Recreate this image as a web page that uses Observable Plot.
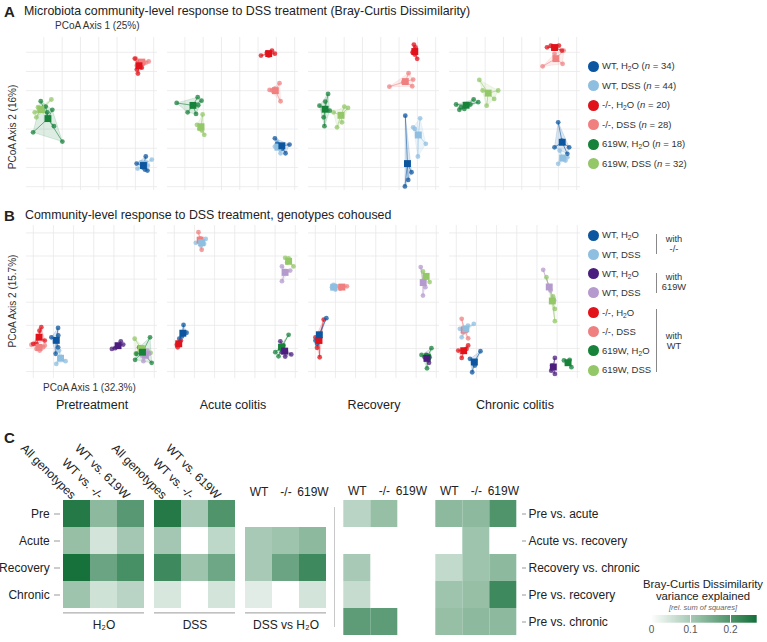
<!DOCTYPE html>
<html><head><meta charset="utf-8">
<script src="https://cdn.jsdelivr.net/npm/d3@7"></script>
<script src="https://cdn.jsdelivr.net/npm/@observablehq/plot@0.6"></script>
<style>
body{margin:0;background:#fff;}
#root{position:relative;width:767px;height:642px;overflow:hidden;font-family:"Liberation Sans",Arial,Helvetica,sans-serif;color:#222;background:#fff;}
.t{position:absolute;white-space:nowrap;line-height:1;}
.t sub{font-size:0.7em;vertical-align:-0.25em;line-height:0;}
</style></head><body><div id="root"></div>
<script>
const FONT = '"Liberation Sans", Arial, Helvetica, sans-serif';
const timepoints = ["Pretreatment","Acute colitis","Recovery","Chronic colitis"];

// ---------- Panel A: PCoA scores per group, one list per time point ----------
const A_WT_H2O = [
 [[0.257,-0.243],[0.207,-0.280],[0.252,-0.311],[0.266,-0.316],[0.239,-0.299]],
 [[0.192,-0.148],[0.272,-0.181],[0.250,-0.226],[0.204,-0.177],[0.232,-0.203]],
 [[0.134,-0.030],[0.168,-0.325],[0.150,-0.365],[0.132,-0.399]],
 [[0.199,-0.065],[0.259,-0.195],[0.179,-0.195],[0.219,-0.160],[0.249,-0.229]]];
const A_WT_DSS = [
 [[0.290,-0.259],[0.212,-0.306],[0.230,-0.274],[0.268,-0.290]],
 [[0.223,-0.226],[0.204,-0.165],[0.214,-0.195],[0.192,-0.191]],
 [[0.215,-0.044],[0.246,-0.177],[0.203,-0.243],[0.177,-0.091],[0.186,-0.099]],
 [[0.199,-0.281],[0.249,-0.247],[0.207,-0.212],[0.239,-0.264]]];
const A_KO_H2O = [
 [[0.197,0.267],[0.224,0.252],[0.241,0.241],[0.208,0.210],[0.214,0.189],[0.235,0.220]],
 [[0.116,0.283],[0.148,0.298],[0.176,0.309],[0.192,0.293],[0.159,0.283]],
 [[0.181,0.340],[0.190,0.326],[0.186,0.288],[0.199,0.266],[0.174,0.300]],
 [[0.159,0.335],[0.203,0.335],[0.219,0.309],[0.138,0.326],[0.176,0.319]]];
const A_KO_DSS = [
 [[0.203,0.267],[0.273,0.252],[0.257,0.246],[0.208,0.231]],
 [[0.217,0.139],[0.223,0.045],[0.163,0.104],[0.177,0.101],[0.192,0.111]],
 [[0.152,0.191],[0.177,0.158],[0.047,0.121],[0.172,0.123],[0.123,0.144]],
 [[0.114,0.227],[0.223,0.240],[0.229,0.309],[0.179,0.292]]];
const A_619_H2O = [
 [[-0.317,0.045],[-0.359,-0.117],[-0.199,-0.165],[-0.245,-0.085],[-0.254,0.000],[-0.281,-0.013],[-0.290,0.017]],
 [[-0.345,0.036],[-0.230,0.066],[-0.209,0.048],[-0.227,0.024],[-0.285,-0.013],[-0.239,-0.021]],
 [[-0.288,0.083],[-0.335,0.022],[-0.303,0.043],[-0.312,-0.039],[-0.308,-0.085],[-0.279,-0.004]],
 [[-0.359,0.028],[-0.341,0.000],[-0.314,0.005],[-0.281,0.028],[-0.263,0.054],[-0.238,0.040],[-0.332,0.014]]];
const A_619_DSS = [
 [[-0.259,0.054],[-0.350,-0.013],[-0.332,0.014],[-0.304,-0.007],[-0.341,-0.039]],
 [[-0.203,-0.024],[-0.234,-0.078],[-0.194,-0.130],[-0.221,-0.099],[-0.207,-0.108]],
 [[-0.199,0.017],[-0.179,0.010],[-0.212,-0.065],[-0.239,-0.091],[-0.258,-0.013]],
 [[-0.232,0.156],[-0.129,0.101],[-0.151,0.057],[-0.192,0.022],[-0.214,0.101]]];

// ---------- Panel B: cohoused genotypes ----------
const B_WT_H2O_KO = [
 [[-0.177,-0.111],[-0.210,-0.152],[-0.177,-0.195],[-0.189,-0.223],[-0.176,-0.144]],
 [[-0.254,-0.098],[-0.239,-0.132],[-0.275,-0.158],[-0.262,-0.148]],
 [[-0.245,-0.069],[-0.299,-0.166],[-0.291,-0.180],[-0.284,-0.148]],
 [[-0.180,-0.212],[-0.221,-0.303],[-0.232,-0.245],[-0.208,-0.274]]];
const B_WT_DSS_KO = [
 [[-0.140,-0.255],[-0.186,-0.267],[-0.172,-0.209],[-0.161,-0.238]],
 [[-0.193,0.257],[-0.144,0.274],[-0.152,0.253],[-0.168,0.245]],
 [[-0.217,0.065],[-0.200,0.055],[-0.209,0.075]],
 [[-0.213,-0.094],[-0.282,-0.115],[-0.273,-0.152],[-0.242,-0.101]]];
const B_WT_H2O_619 = [
 [[0.134,-0.169],[0.146,-0.183],[0.090,-0.202],[0.106,-0.199],[0.126,-0.187]],
 [[0.226,-0.169],[0.280,-0.226],[0.250,-0.235],[0.234,-0.216]],
 [[0.264,-0.262],[0.243,-0.238],[0.251,-0.228],[0.258,-0.244]],
 [[0.189,-0.241],[0.171,-0.296],[0.189,-0.310],[0.176,-0.274]]];
const B_WT_DSS_619 = [
 [[0.246,-0.255],[0.274,-0.223],[0.266,-0.209],[0.238,-0.231]],
 [[0.234,0.155],[0.234,0.091],[0.275,0.137],[0.255,0.133]],
 [[0.223,0.152],[0.246,0.065],[0.234,0.029],[0.238,0.094]],
 [[0.131,0.140],[0.185,0.007],[0.167,0.051]]];
const B_KO_H2O = [
 [[-0.260,-0.108],[-0.284,-0.180],[-0.300,-0.180],[-0.243,-0.166],[-0.269,-0.123]],
 [[-0.283,-0.195],[-0.267,-0.166],[-0.287,-0.184],[-0.274,-0.174]],
 [[-0.258,-0.075],[-0.291,-0.197],[-0.278,-0.238],[-0.299,-0.152]],
 [[-0.241,-0.187],[-0.290,-0.209],[-0.273,-0.241],[-0.249,-0.202]]];
const B_KO_DSS = [
 [[-0.309,-0.184],[-0.284,-0.202],[-0.251,-0.195],[-0.268,-0.209],[-0.243,-0.187]],
 [[-0.180,0.303],[-0.164,0.227],[-0.171,0.276]],
 [[-0.143,0.069],[-0.184,0.069],[-0.176,0.059]],
 [[-0.273,-0.072],[-0.241,-0.156],[-0.266,-0.130]]];
const B_619_H2O = [
 [[0.279,-0.152],[0.205,-0.249],[0.287,-0.262],[0.225,-0.195],[0.212,-0.223]],
 [[0.267,-0.141],[0.201,-0.216],[0.217,-0.234],[0.242,-0.187]],
 [[0.276,-0.199],[0.227,-0.228],[0.254,-0.286],[0.267,-0.238]],
 [[0.234,-0.252],[0.271,-0.281],[0.262,-0.249],[0.250,-0.265]]];
const B_619_DSS = [
 [[0.203,-0.158],[0.208,-0.223],[0.282,-0.219],[0.249,-0.202]],
 [[0.250,0.192],[0.291,0.155],[0.267,0.190],[0.260,0.172]],
 [[0.248,0.116],[0.267,0.087],[0.234,0.133]],
 [[0.147,0.108],[0.189,-0.029],[0.189,-0.082],[0.180,0.025]]];

const groupColors = {
  WT_H2O:"#0c56a0", WT_DSS:"#8fbfe0", KO_H2O:"#e2121b", KO_DSS:"#f08080",
  G619_H2O:"#16823a", G619_DSS:"#93c767", WT_H2O_619:"#4a1d7e", WT_DSS_619:"#b59bcd"
};
const legendA = [["WT_H2O","WT, H<sub>2</sub>O (<i>n</i> = 34)"],["WT_DSS","WT, DSS (<i>n</i> = 44)"],
  ["KO_H2O","-/-, H<sub>2</sub>O (<i>n</i> = 20)"],["KO_DSS","-/-, DSS (<i>n</i> = 28)"],
  ["G619_H2O","619W, H<sub>2</sub>O (<i>n</i> = 18)"],["G619_DSS","619W, DSS (<i>n</i> = 32)"]];
const legendB = [["WT_H2O","WT, H<sub>2</sub>O"],["WT_DSS","WT, DSS"],["WT_H2O_619","WT, H<sub>2</sub>O"],["WT_DSS_619","WT, DSS"],
  ["KO_H2O","-/-, H<sub>2</sub>O"],["KO_DSS","-/-, DSS"],["G619_H2O","619W, H<sub>2</sub>O"],["G619_DSS","619W, DSS"]];

// ---------- Panel C: variance explained ----------
const hmRowsLeft = ["Pre","Acute","Recovery","Chronic"];
const hmColsGeno = ["All genotypes","WT vs. -/-","WT vs. 619W"];
const hmColsGt = ["WT","-/-","619W"];
const hmH2O = [[0.25,0.13,0.19],[0.12,0.05,0.105],[0.265,0.17,0.21],[0.11,0.055,0.08]];
const hmDSS = [[0.25,0.10,0.20],[0.105,null,0.075],[0.22,0.11,0.165],[0.045,null,0.05]];
const hmDvH = [[null,null,null],[0.10,0.11,0.13],[0.10,0.17,0.22],[0.035,null,0.05]];
const hmRowsRight = ["Pre vs. acute","Acute vs. recovery","Recovery vs. chronic","Pre vs. recovery","Pre vs. chronic"];
const hmRight1 = [[0.08,0.12,null],[null,null,null],[0.10,null,null],[0.065,null,null],[0.185,0.185,null]];
const hmRight2 = [[0.13,0.13,0.20],[null,0.11,null],[0.07,0.11,0.13],[0.11,0.12,0.22],[0.12,0.13,0.13]];
const hmMax = 0.267;
const hmTicks = [0, 0.1, 0.2];

// ================= rendering =================
const root = document.getElementById("root");
function txt(html, x, cy, size, extra = {}) {
  const d = document.createElement("div");
  d.className = "t"; d.innerHTML = html;
  d.style.fontSize = size + "px"; d.style.left = x + "px"; d.style.top = (cy - size * 0.5) + "px";
  Object.assign(d.style, extra); root.appendChild(d); return d;
}
function put(el, left, top) { el.style.position = "absolute"; el.style.left = left + "px"; el.style.top = top + "px"; root.appendChild(el); return el; }
function box(left, top, w, h, bg) { const d = document.createElement("div"); Object.assign(d.style, {position:"absolute", left:left+"px", top:top+"px", width:w+"px", height:h+"px", background:bg}); root.appendChild(d); return d; }

function flatten(list) {
  const pts = [];
  for (const [g, arr] of list) arr.forEach((panel, i) => panel.forEach(([x, y]) => pts.push({tp: timepoints[i], g, x, y})));
  const cents = [];
  for (const [tp, m] of d3.group(pts, d => d.tp, d => d.g)) for (const [g, v] of m) {
    const c = {tp, g, x: d3.mean(v, d => d.x), y: d3.mean(v, d => d.y)};
    cents.push(c); v.forEach(d => { d.cx = c.x; d.cy = c.y; });
  }
  return {pts, cents};
}
const baseStyle = {fontFamily: FONT, fontSize: "12px", color: "#222", background: "transparent", overflow: "visible", maxWidth: "none"};

function pcoa({list, xDomain, yDomain, xTicks, yTicks, height, marginTop, marginBottom, facetLabels}) {
  const {pts, cents} = flatten(list);
  const dom = list.map(d => d[0]);
  const marks = [
    Plot.ruleX(xTicks, {stroke: "#e9e9e9", strokeWidth: 0.8}),
    Plot.ruleY(yTicks, {stroke: "#e9e9e9", strokeWidth: 0.8}),
    Plot.hull(pts, {x: "x", y: "y", fx: "tp", z: "g", fill: "g", stroke: "g", fillOpacity: 0.14, strokeOpacity: 0.25, strokeWidth: 0.6}),
    Plot.link(pts, {x1: "x", y1: "y", x2: "cx", y2: "cy", fx: "tp", stroke: "g", strokeOpacity: 0.75, strokeWidth: 0.8}),
    Plot.dot(pts, {x: "x", y: "y", fx: "tp", fill: "g", r: 2.4, fillOpacity: 0.75}),
    Plot.dot(cents, {x: "x", y: "y", fx: "tp", fill: "g", symbol: "square", r: 3.9})
  ];
  if (facetLabels) marks.push(Plot.axisFx({anchor: "bottom", tickSize: 0, tickPadding: 22, label: null, fontSize: 12.5}));
  return Plot.plot({
    width: 590, height, marginLeft: 25, marginRight: 8, marginTop, marginBottom,
    style: {...baseStyle, fontSize: "12.5px"},
    x: {domain: xDomain, axis: null},
    y: {domain: yDomain, axis: null},
    fx: {domain: timepoints, paddingInner: 0.07, paddingOuter: 0, axis: null, label: null},
    color: {domain: dom, range: dom.map(k => groupColors[k])},
    marks
  });
}

// Panel A
txt("<b>A</b>", 4, 11, 15);
txt("Microbiota community-level response to DSS treatment (Bray-Curtis Dissimilarity)", 24, 11, 12.4);
txt("PCoA Axis 1 (25%)", 55, 26, 10, {color: "#333"});
put(pcoa({
  list: [["G619_DSS", A_619_DSS], ["G619_H2O", A_619_H2O], ["KO_DSS", A_KO_DSS], ["KO_H2O", A_KO_H2O], ["WT_DSS", A_WT_DSS], ["WT_H2O", A_WT_H2O]],
  xDomain: [-0.395, 0.321], yDomain: [-0.420, 0.377],
  xTicks: [-0.3,-0.2,-0.1,0,0.1,0.2,0.3], yTicks: [-0.4,-0.3,-0.2,-0.1,0,0.1,0.2,0.3],
  height: 200, marginTop: 37, marginBottom: 10, facetLabels: false
}), 0, 0);
txt("PCoA Axis 2 (16%)", 13, 127, 10, {transform: "translate(-50%,-50%) rotate(-90deg)", top: "127px", color: "#333"});

// Panel B
txt("<b>B</b>", 4, 215, 15);
txt("Community-level response to DSS treatment, genotypes cohoused", 25, 215, 12.4);
put(pcoa({
  list: [["G619_DSS", B_619_DSS], ["WT_DSS_619", B_WT_DSS_619], ["G619_H2O", B_619_H2O], ["WT_H2O_619", B_WT_H2O_619],
         ["KO_DSS", B_KO_DSS], ["WT_DSS", B_WT_DSS_KO], ["KO_H2O", B_KO_H2O], ["WT_H2O", B_WT_H2O_KO]],
  xDomain: [-0.3335, 0.316], yDomain: [-0.330, 0.332],
  xTicks: [-0.3,-0.2,-0.1,0,0.1,0.2,0.3], yTicks: [-0.3,-0.2,-0.1,0,0.1,0.2,0.3],
  height: 230, marginTop: 25, marginBottom: 52, facetLabels: true
}), 0, 200);
txt("PCoA Axis 2 (15.7%)", 13, 301, 10, {transform: "translate(-50%,-50%) rotate(-90deg)", top: "301px", color: "#333"});
txt("PCoA Axis 1 (32.3%)", 43, 388, 10, {color: "#333"});

// legends A & B
function legendItem(key, html, cy) {
  const c = document.createElement("div");
  Object.assign(c.style, {position: "absolute", left: "587.5px", top: (cy - 5.5) + "px", width: "11px", height: "11px", borderRadius: "50%", background: groupColors[key]});
  root.appendChild(c);
  txt(html, 602, cy, 9.5, {color: "#333"});
}
const legAy = [66, 85.5, 105, 124.5, 144, 163.5];
legendA.forEach(([k, h], i) => legendItem(k, h, legAy[i]));
const legBy = [235, 254.3, 273.5, 292.7, 312.3, 331.7, 350.7, 370];
legendB.forEach(([k, h], i) => legendItem(k, h, legBy[i]));
box(656, 234, 1, 20, "#888"); box(656, 273, 1, 20, "#888"); box(656, 309, 1, 63, "#888");
const brk = [["with", 239.3], ["-/-", 249.3], ["with", 277.8], ["619W", 287.8], ["with", 336.5], ["WT", 346.5]];
brk.forEach(([s, y]) => txt(s, 674, y, 9.3, {transform: "translateX(-50%)", color: "#333"}));

// Panel C
txt("<b>C</b>", 4, 437, 15);
const hmColor = {type: "linear", domain: [0, hmMax], range: ["#ffffff", "#15703a"], interpolate: "rgb"};
function cellsOf(key, mat, rows) {
  const out = [];
  mat.forEach((r, i) => r.forEach((v, j) => { if (v != null) out.push({grp: key, row: rows[i], col: j, v}); }));
  return out;
}
function headers(key, names) { return names.map((t, col) => ({grp: key, col, t})); }

const leftCells = [...cellsOf("H2O", hmH2O, hmRowsLeft), ...cellsOf("DSS", hmDSS, hmRowsLeft), ...cellsOf("DvH", hmDvH, hmRowsLeft)];
const leftRot = [...headers("H2O", hmColsGeno), ...headers("DSS", hmColsGeno)];
const leftFlat = headers("DvH", hmColsGt);
const leftGroups = [{grp: "H2O", t: "H\u2082O"}, {grp: "DSS", t: "DSS"}, {grp: "DvH", t: "DSS vs H\u2082O"}];

put(Plot.plot({
  width: 335, height: 212, marginLeft: 62, marginRight: 8, marginTop: 68.3, marginBottom: 32.7,
  style: baseStyle,
  x: {type: "band", domain: [0, 1, 2], padding: 0, axis: null},
  y: {type: "band", domain: hmRowsLeft, padding: 0, axis: null},
  fx: {domain: ["H2O", "DSS", "DvH"], paddingInner: 0.088, paddingOuter: 0, axis: null, label: null},
  color: hmColor,
  marks: [
    Plot.cell(leftCells, {x: "col", y: "row", fx: "grp", fill: "v", inset: 0}),
    Plot.ruleY(["Chronic"], {dy: 17.9, stroke: "#9a9a9a", insetLeft: 1, insetRight: 1}),
    Plot.text(leftRot, {fx: "grp", x: "col", text: "t", frameAnchor: "top", rotate: 45, textAnchor: "end", dy: -5, fontSize: 12}),
    Plot.text(leftFlat, {fx: "grp", x: "col", text: "t", frameAnchor: "top", dy: -11, fontSize: 12}),
    Plot.text(leftGroups, {fx: "grp", text: "t", frameAnchor: "bottom", dy: 19, fontSize: 12}),
    Plot.axisY({anchor: "left", tickSize: 6, tickPadding: 4.7, dx: -2, stroke: "#999", fill: "#222", fontSize: 12, label: null})
  ]
}), 0, 430);

box(334, 507, 1, 120, "#c8c8c8");

const rightCells = [...cellsOf("R1", hmRight1, hmRowsRight), ...cellsOf("R2", hmRight2, hmRowsRight)];
const rightHdr = [...headers("R1", hmColsGt), ...headers("R2", hmColsGt)];
put(Plot.plot({
  width: 437, height: 212, marginLeft: 11.7, marginRight: 249.3, marginTop: 68.3, marginBottom: 5,
  style: baseStyle,
  x: {type: "band", domain: [0, 1, 2], padding: 0, axis: null},
  y: {type: "band", domain: hmRowsRight, padding: 0, axis: null},
  fx: {domain: ["R1", "R2"], paddingInner: 0.087, paddingOuter: 0, axis: null, label: null},
  color: hmColor,
  marks: [
    Plot.cell(rightCells, {x: "col", y: "row", fx: "grp", fill: "v", inset: 0}),
    Plot.text(rightHdr, {fx: "grp", x: "col", text: "t", frameAnchor: "top", dy: -12, fontSize: 12}),
    Plot.axisY({anchor: "right", tickSize: 4, tickPadding: 3, dx: 3, stroke: "#999", fill: "#222", fontSize: 12, label: null})
  ]
}), 330, 430);

// colour bar
txt("Bray-Curtis Dissimilarity", 703, 584.5, 11.3, {transform: "translateX(-50%)"});
txt("variance explained", 703, 596.3, 11.3, {transform: "translateX(-50%)"});
txt("[rel. sum of squares]", 703, 607.5, 7.5, {transform: "translateX(-50%)", fontStyle: "italic", color: "#666"});
const leg = Plot.legend({
  color: hmColor, label: null, width: 120, height: 28, marginTop: 2, marginBottom: 18.3, marginLeft: 10.7, marginRight: 3.3,
  tickSize: 0, ticks: hmTicks, tickFormat: d => d === 0 ? "0" : d3.format(".1f")(d),
  style: {fontFamily: FONT, fontSize: "10px", color: "#555", background: "transparent", overflow: "visible", maxWidth: "none"}
});
put(leg, 640, 613);
leg.querySelectorAll(".tick line").forEach(l => l.setAttribute("stroke", "#fff"));
</script></body></html>
